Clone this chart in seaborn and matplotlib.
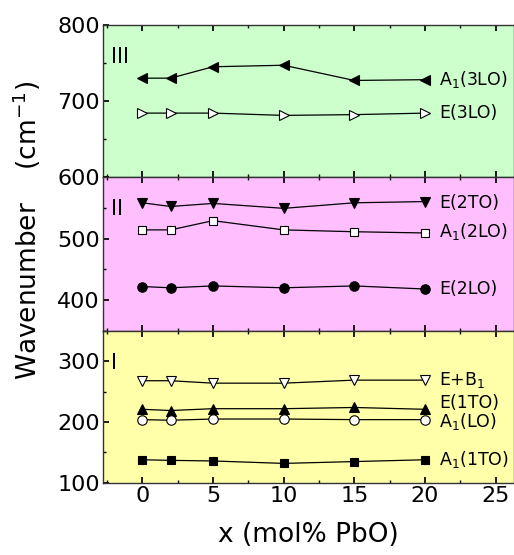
import matplotlib
matplotlib.use('Agg')
import matplotlib.pyplot as plt
from matplotlib import font_manager
from matplotlib.ticker import MultipleLocator
import seaborn as sns

# 数据
x_pbo = [0, 2, 5, 10, 15, 20]

a1_3lo = [730, 730, 745, 747, 727, 728]
e_3lo = [684, 684, 684, 681, 682, 684]

e_2to = [558, 552, 557, 549, 558, 560]
a1_2lo = [514, 514, 529, 514, 511, 509]
e_2lo = [422, 420, 423, 420, 423, 418]

e_b1 = [268, 268, 264, 264, 269, 269]
e_1to = [221, 219, 222, 222, 224, 221]
a1_lo = [204, 203, 205, 205, 204, 204]
a1_1to = [138, 137, 136, 132, 135, 138]

region_names = ['III', 'II', 'I']
region_limits = [(600, 800), (350, 600), (100, 350)]
region_colors = ['#ccffcc', '#ffbfff', '#ffffaa']

# 每个区域: (数值, 标签, 标记, 是否实心, 标签y偏移)
series = [
    [(a1_3lo, 'A$_1$(3LO)', '<', True, 0), (e_3lo, 'E(3LO)', '>', False, 0)],
    [(e_2to, 'E(2TO)', 'v', True, -2), (a1_2lo, 'A$_1$(2LO)', 's', False, 2), (e_2lo, 'E(2LO)', 'o', True, 0)],
    [(e_b1, 'E+B$_1$', 'v', False, 1), (e_1to, 'E(1TO)', '^', True, 10),
     (a1_lo, 'A$_1$(LO)', 'o', False, -3), (a1_1to, 'A$_1$(1TO)', 's', True, 0)],
]
marker_sizes = {'<': 7.5, '>': 7.5, 'v': 7.5, '^': 7.5, 'o': 6.8, 's': 5.5}

sns.set_theme(style='ticks')
# 优先使用窄体字体（原图字体较窄）
installed = {f.name for f in font_manager.fontManager.ttflist}
if 'Liberation Sans Narrow' in installed:
    plt.rcParams['font.family'] = ['Liberation Sans Narrow', 'DejaVu Sans']
    tick_fs, lab_fs, txt_fs = 17, 20, 13.5
else:
    plt.rcParams['font.family'] = ['DejaVu Sans']
    tick_fs, lab_fs, txt_fs = 16, 19, 12.5

fig, axes = plt.subplots(3, 1, figsize=(5.14, 5.55), dpi=100, sharex=True,
                         gridspec_kw={'height_ratios': [152, 154, 152], 'hspace': 0})
fig.subplots_adjust(left=0.2, right=1.0, top=0.955, bottom=0.13)

for ax, name, lim, col, group in zip(axes, region_names, region_limits, region_colors, series):
    ax.set_facecolor(col)
    for vals, label, mk, filled, dy in group:
        sns.lineplot(x=x_pbo, y=vals, ax=ax, color='black', linewidth=0.9,
                     marker=mk, markersize=marker_sizes[mk],
                     markerfacecolor='black' if filled else 'white',
                     markeredgecolor='black', markeredgewidth=0.8)
        ax.text(21.0, vals[-1] + dy, label, fontsize=txt_fs, va='center', ha='left', color='black')
    ax.text(-2.2, lim[1] - 0.21 * (lim[1] - lim[0]), name, fontsize=15,
            va='center', ha='left', color='black')
    ax.set_ylim(*lim)
    ax.set_xlim(-2.8, 26.3)
    ax.yaxis.set_major_locator(MultipleLocator(100))
    ax.yaxis.set_minor_locator(MultipleLocator(50))
    ax.xaxis.set_major_locator(MultipleLocator(5))
    ax.xaxis.set_minor_locator(MultipleLocator(2.5))
    ax.tick_params(which='both', direction='in', top=True, right=False, labelsize=tick_fs,
                   pad=2, colors='black')
    ax.tick_params(which='major', length=4)
    ax.tick_params(which='minor', length=2.5)
    for s in ax.spines.values():
        s.set_color('#333333')
        s.set_linewidth(1.0)

axes[0].set_yticks([700, 800])
axes[1].set_yticks([400, 500, 600])
axes[2].set_yticks([100, 200, 300])
axes[2].set_xlabel('x (mol% PbO)', fontsize=lab_fs, labelpad=12, color='black')

fig.text(0.052, 0.585, 'Wavenumber    (cm$^{-1}$)', rotation=90, fontsize=lab_fs,
         ha='center', va='center', color='black')

fig.savefig('out.png', dpi=100)
